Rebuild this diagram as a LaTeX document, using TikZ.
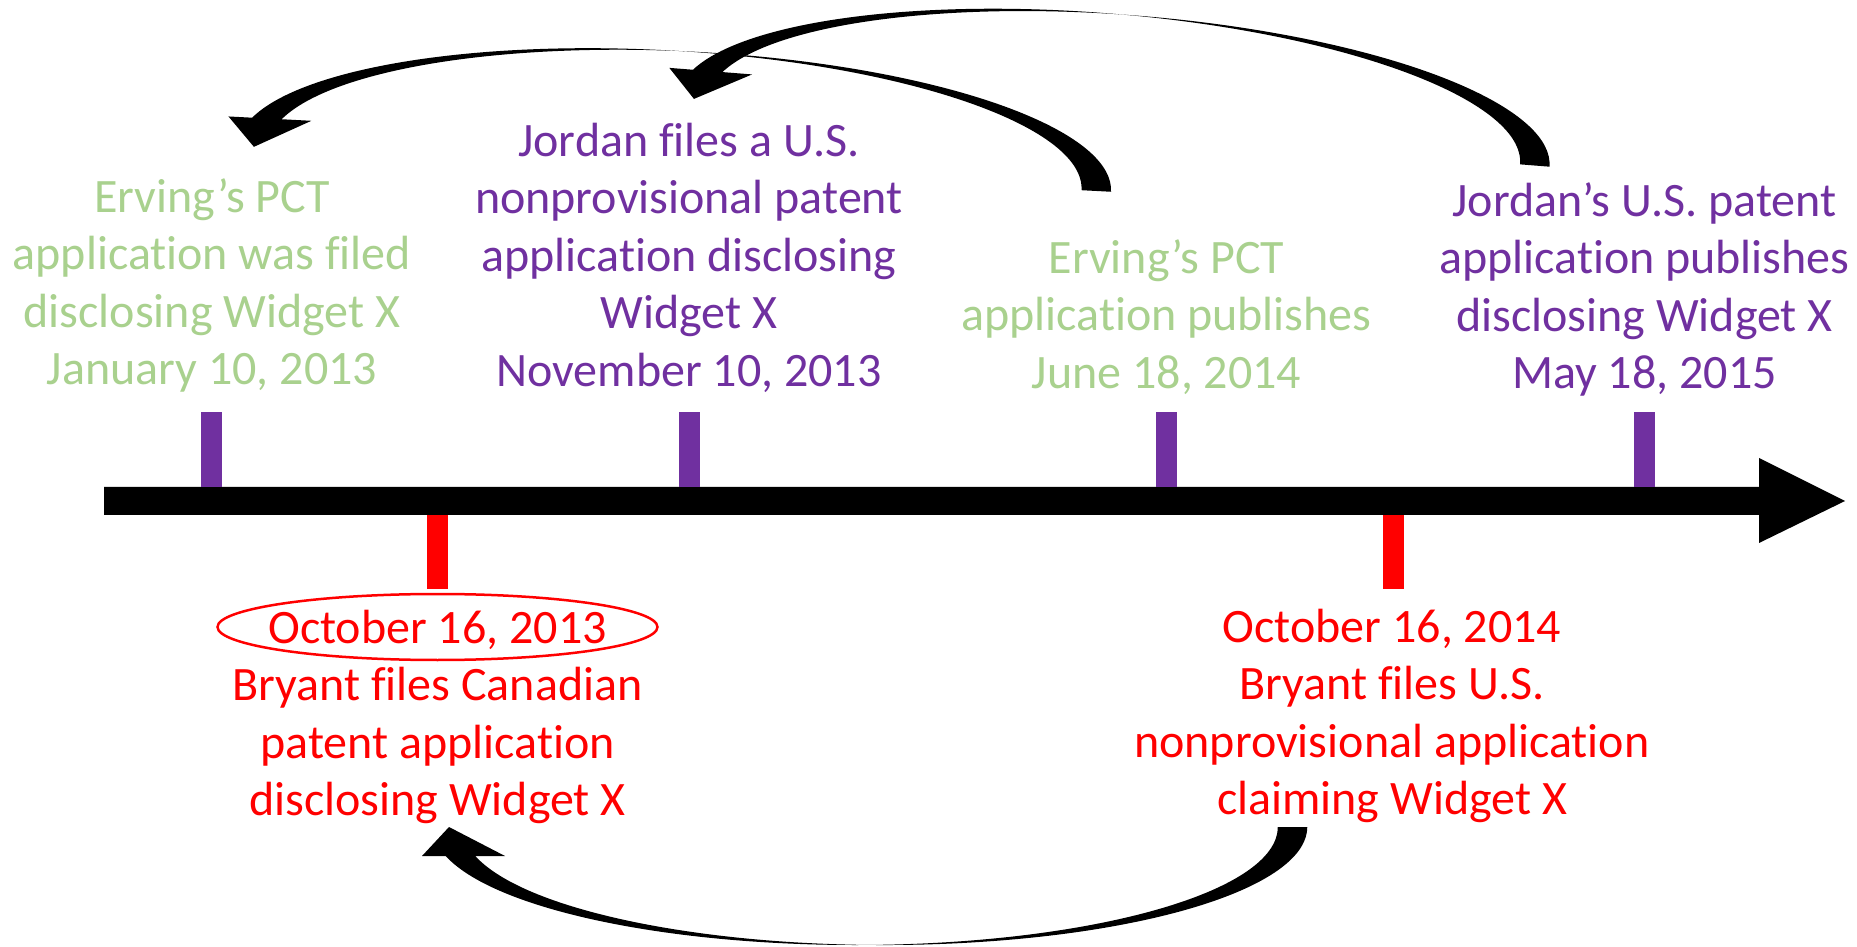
\documentclass[tikz,border=0pt]{standalone}
\usepackage{fontspec}
\setmainfont{Carlito}[Ligatures=NoCommon]
\definecolor{evgreen}{HTML}{A9D18E}
\definecolor{evpurple}{HTML}{7030A0}
\definecolor{evred}{HTML}{FF0000}
\newcommand\capstrut{\rule{0pt}{40pt}}
\tikzset{
  lbl/.style={inner sep=0pt, align=center, anchor=north,
    font=\fontsize{48}{57.5}\selectfont},
  greenlbl/.style={lbl, text=evgreen},
  purplelbl/.style={lbl, text=evpurple},
  redlbl/.style={lbl, text=evred},
  % curved block arrow: two equal half-ellipses shifted sideways, head on the left
  pics/bentarrow/.style={code={
    \fill[black] (422.5,0)
      arc[start angle=0, end angle=165.77, x radius=422.5, y radius=118]
      -- (-433.25,29) -- (-406.25,0) -- (-350.25,29) -- (-380,29)
      arc[start angle=165.77, end angle=0, x radius=422.5, y radius=118]
      -- cycle;
  }},
}
\begin{document}
\begin{tikzpicture}[x=1pt, y=1pt]
\useasboundingbox (0,0) rectangle (1857,946);
\fill[white] (0,0) rectangle (1857,946);

% time axis
\fill[black] (104,431) -- (1759,431) -- (1759,403) -- (1845,445)
  -- (1759,488) -- (1759,459) -- (104,459) -- cycle;

% event marks above the axis
\foreach \x in {211,689,1166,1644}
  \fill[evpurple] (\x-10.5,459) rectangle (\x+10.5,534);
% event marks below the axis
\foreach \x in {437,1393}
  \fill[evred] (\x-10.5,431) rectangle (\x+10.5,357);

% labels above the axis
\node[greenlbl] (pctfiled) at (212,774)
  {\capstrut Erving’s PCT\\application was filed\\disclosing Widget X\\January 10, 2013};
\node[purplelbl] (usfiled) at (689,830)
  {\capstrut Jordan files a U.S.\\nonprovisional patent\\application disclosing\\Widget X\\November 10, 2013};
\node[greenlbl] (pctpub) at (1166.5,713)
  {\capstrut Erving’s PCT\\application publishes\\June 18, 2014};
\node[purplelbl] (uspub) at (1644.5,770)
  {\capstrut Jordan’s U.S. patent\\application publishes\\disclosing Widget X\\May 18, 2015};

% labels below the axis
\node[redlbl] (cafiled) at (437.5,343)
  {\capstrut October 16, 2013\\Bryant files Canadian\\patent application\\disclosing Widget X};
\node[redlbl] (usclaim) at (1392,344)
  {\capstrut October 16, 2014\\Bryant files U.S.\\nonprovisional application\\claiming Widget X};
\draw[evred, line width=2.5] (437.5,319) ellipse [x radius=220, y radius=33];

% curved arrows
\pic[rotate=-3] at (659.6,777.9) {bentarrow};
\pic[rotate=-4.53] at (1098.9,815) {bentarrow};
\pic[yscale=-1] at (855.25,119) {bentarrow};
\end{tikzpicture}
\end{document}
